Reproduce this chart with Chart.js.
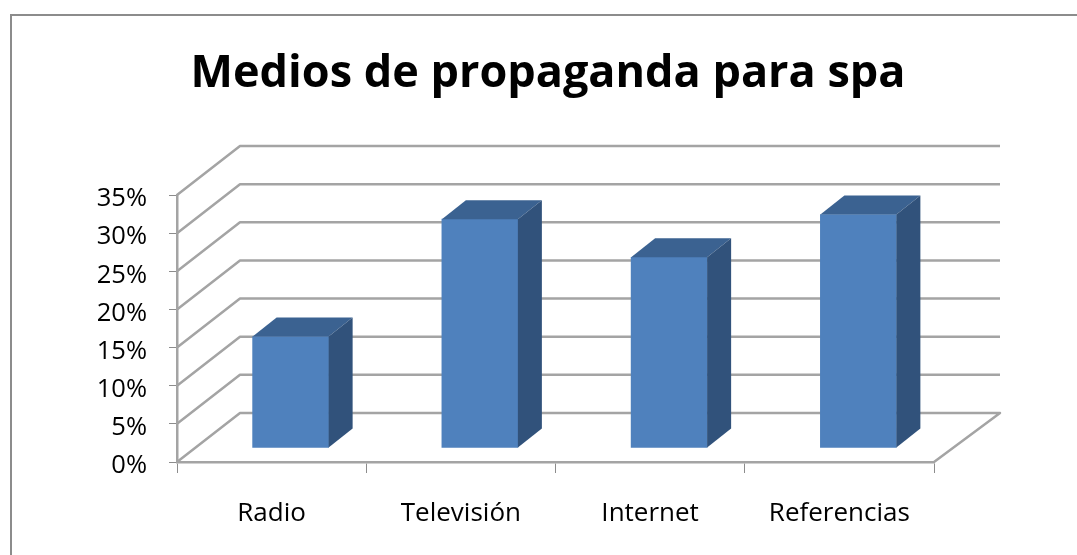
<!DOCTYPE html>
<html>
<head>
<meta charset="utf-8">
<title>Medios de propaganda para spa</title>
<script src="https://cdn.jsdelivr.net/npm/chart.js@4"></script>
<style>
  html, body { margin: 0; padding: 0; background: #fff; overflow: hidden; }
  #page { position: relative; width: 1077px; height: 555px; overflow: hidden; }
  #frame { position: absolute; left: 10px; top: 14px; width: 1200px; height: 700px; border: 2px solid #8c8c8c; }
  #wrap { position: absolute; left: 0; top: 0; width: 1077px; height: 555px; }
</style>
</head>
<body>
<div id="page">
  <div id="frame"></div>
  <div id="wrap"><canvas id="chart"></canvas></div>
</div>
<script>
const categories = ['Radio', 'Televisión', 'Internet', 'Referencias'];
const percentValues = [14.6, 30, 25, 30.6];
const axisMax = 35;
const axisStep = 5;

const fontFamily = '"Open Sans", sans-serif';
const gridColor = '#a4a4a4';

// how far the back wall sits behind the axes, and the columns inside that depth
const wallDepth = { left: 63, right: 66, y: -49 };
const columnShift = { x: 19, y: -14 };
const columnDepth = { x: 24, y: -19 };
const yLabelDrop = 4;

function polygon(ctx, points, color) {
  ctx.fillStyle = color;
  ctx.beginPath();
  points.forEach(([x, y], i) => (i ? ctx.lineTo(x, y) : ctx.moveTo(x, y)));
  ctx.closePath();
  ctx.fill();
}

const walls3d = {
  id: 'walls3d',
  beforeDatasetsDraw(chart) {
    const { ctx, chartArea, scales } = chart;
    const backLeft = chartArea.left + wallDepth.left;
    const backRight = chartArea.right + wallDepth.right;

    ctx.save();
    ctx.strokeStyle = gridColor;
    ctx.lineWidth = 2.5;
    ctx.lineJoin = 'round';
    scales.y.ticks.forEach((tick) => {
      const y = scales.y.getPixelForValue(tick.value);
      ctx.beginPath();
      ctx.moveTo(chartArea.left, y);
      ctx.lineTo(backLeft, y + wallDepth.y);
      ctx.lineTo(backRight, y + wallDepth.y);
      if (tick.value === 0) ctx.lineTo(chartArea.right, y);
      ctx.stroke();
    });
    ctx.restore();

    // columns stand a little behind the front edge of the floor
    ctx.save();
    ctx.translate(columnShift.x, columnShift.y);
  },
  afterDatasetsDraw(chart) {
    const { ctx } = chart;
    const dx = columnDepth.x;
    const dy = columnDepth.y;
    chart.getDatasetMeta(0).data.forEach((bar) => {
      const props = bar.getProps(['x', 'y', 'base', 'width'], true);
      const left = props.x - props.width / 2;
      const right = props.x + props.width / 2;
      polygon(ctx, [[left, props.y], [left + dx, props.y + dy], [right + dx, props.y + dy], [right, props.y]], '#3b6291');
      polygon(ctx, [[right, props.y], [right + dx, props.y + dy], [right + dx, props.base + dy], [right, props.base]], '#31527b');
    });
    ctx.restore();
  }
};

// percent labels sit a few pixels under their ticks, outside the narrow axis box
function adjustYLabels(scale) {
  if (scale.labelsAdjusted) return;
  scale.labelsAdjusted = true;
  const drawLabels = scale.drawLabels;
  scale.drawLabels = function (area) {
    const left = this.left;
    this.left = 0;
    this.ctx.save();
    this.ctx.translate(0, yLabelDrop);
    drawLabels.call(this, area);
    this.ctx.restore();
    this.left = left;
  };
}

new Chart(document.getElementById('chart'), {
  type: 'bar',
  data: {
    labels: categories,
    datasets: [{
      data: percentValues,
      backgroundColor: '#4f81bd',
      barThickness: 76
    }]
  },
  plugins: [walls3d],
  options: {
    responsive: true,
    maintainAspectRatio: false,
    animation: false,
    layout: { padding: { left: 162, right: 143 } },
    plugins: {
      legend: { display: false },
      tooltip: { enabled: false },
      title: {
        display: true,
        text: 'Medios de propaganda para spa',
        color: '#000',
        font: { family: fontFamily, size: 45, weight: 'bold', lineHeight: 1.2 },
        padding: { top: 47, bottom: 94 }
      }
    },
    scales: {
      x: {
        afterFit: (scale) => { scale.height = 93; },
        grid: { drawOnChartArea: false, tickLength: 11, color: '#8c8c8c', offset: true },
        border: { color: gridColor, width: 2.5 },
        ticks: {
          color: '#000',
          padding: 25,
          maxRotation: 0,
          font: { family: fontFamily, size: 26 }
        }
      },
      y: {
        min: 0,
        max: axisMax,
        afterFit: (scale) => { scale.width = 15; adjustYLabels(scale); },
        grid: { drawOnChartArea: false, tickLength: 8, color: '#8c8c8c' },
        border: { color: gridColor, width: 2.5 },
        ticks: {
          stepSize: axisStep,
          color: '#000',
          padding: 22,
          font: { family: fontFamily, size: 25.5 },
          callback: (value) => value + '%'
        }
      }
    }
  }
});
</script>
</body>
</html>
